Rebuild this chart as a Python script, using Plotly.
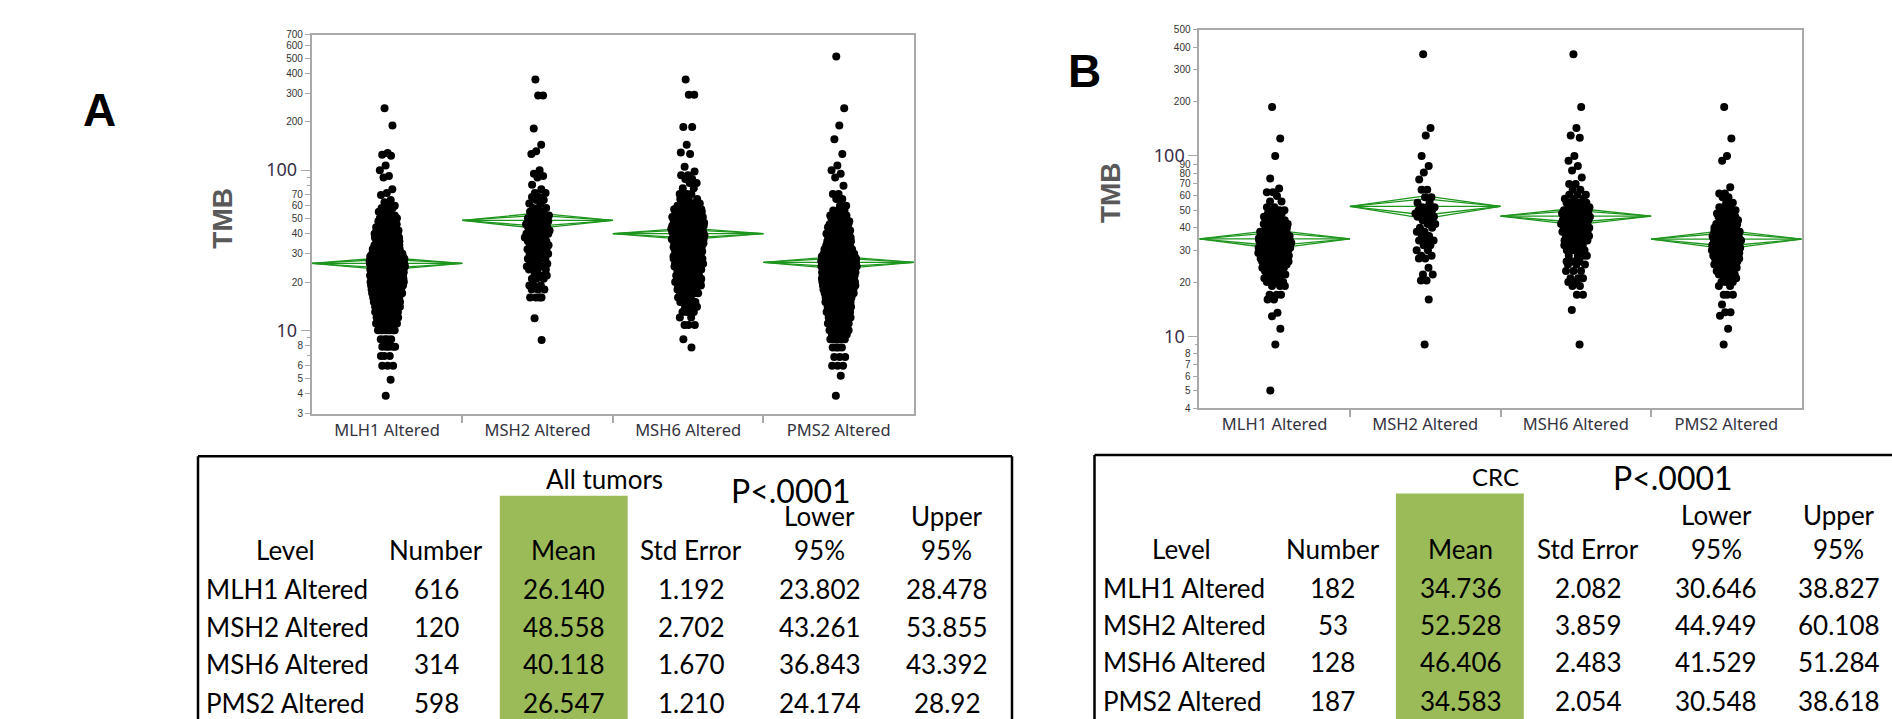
import numpy as np
import plotly.graph_objects as go

W, H = 1892, 719

def px(x):
    return x / W

def py(y):
    return 1 - y / H

categories = ["MLH1 Altered", "MSH2 Altered", "MSH6 Altered", "PMS2 Altered"]

# ---------------- Panel A (All tumors): TMB levels and number of dots at each level
a_mlh1_tmb = [244, 190, 128, 125, 123, 107, 100, 92, 90, 76, 72, 70, 65, 63, 60, 58, 55, 52, 50, 48, 46, 44, 42, 40,
              38, 36, 34, 32, 30, 29, 28, 27, 26, 25, 24, 23, 22, 21, 20, 19, 18, 17, 16, 15, 14, 13, 12, 11, 10,
              8.8, 7.9, 6.9, 6.0, 4.9, 3.9]
a_mlh1_n = [1, 1, 1, 1, 1, 1, 1, 1, 1, 1, 1, 1, 1, 1, 2, 2, 3, 3, 4, 5, 6, 7, 9, 10,
            12, 14, 16, 18, 22, 22, 24, 25, 27, 27, 27, 27, 27, 27, 27, 26, 26, 25, 24, 22, 20, 17, 13, 11, 8,
            4, 5, 3, 3, 1, 1]

a_msh2_tmb = [368, 293, 182, 144, 131, 126, 100, 95, 92, 90, 81, 76, 72, 68, 65, 62, 58, 55, 52, 50, 48, 46, 44, 42,
              40, 38, 36, 34, 32, 30, 28, 26, 25, 24, 22, 21, 19, 18, 16, 11.9, 8.7]
a_msh2_n = [1, 2, 1, 1, 1, 1, 1, 1, 1, 1, 1, 1, 2, 2, 2, 2, 3, 3, 4, 4, 4, 4, 5, 5,
            5, 5, 5, 6, 5, 5, 5, 4, 4, 4, 4, 3, 3, 3, 4, 1, 1]

a_msh6_tmb = [368, 296, 186, 144, 129, 126, 105, 98, 93, 88, 83, 77, 71, 66, 62, 60, 57, 55, 53, 51, 49, 47, 45, 43,
              41, 39, 37, 35, 33, 31, 29, 28, 26, 25, 24, 22, 21, 20, 19, 18, 17, 16, 15, 14, 13, 12, 10.8, 8.8, 7.8]
a_msh6_n = [1, 2, 2, 1, 1, 1, 1, 1, 2, 2, 2, 2, 3, 4, 5, 5, 7, 8, 10, 11, 11, 12, 13, 14,
            14, 14, 13, 13, 12, 13, 11, 10, 11, 10, 9, 9, 8, 7, 7, 6, 5, 4, 4, 3, 3, 2, 3, 1, 1]

a_pms2_tmb = [513, 244, 190, 156, 126, 107, 100, 95, 90, 80, 71, 66, 60, 56, 52, 50, 48, 46, 44, 42, 40, 38, 36, 34,
              32, 30, 29, 28, 27, 26, 25, 24, 23, 22, 21, 20, 19, 18, 17, 16, 15, 14, 13, 12, 11, 10, 9.4, 8.8, 7.8,
              6.8, 6.0, 5.2, 3.9]
a_pms2_n = [1, 1, 1, 1, 1, 1, 1, 1, 1, 1, 2, 2, 2, 3, 4, 4, 5, 6, 7, 8, 10, 11, 13, 15,
            17, 22, 22, 24, 25, 26, 26, 26, 26, 26, 26, 25, 25, 24, 24, 22, 20, 18, 16, 14, 12, 9, 4, 5, 4,
            3, 3, 1, 1]

# ---------------- Panel B (CRC)
b_mlh1_tmb = [187, 125, 100, 75, 66, 63, 60, 56, 52, 50, 48, 46, 44, 42, 40, 38, 36, 35, 34, 33, 32, 31, 30, 29,
              28, 27, 26, 25, 24, 23, 22, 21, 20, 19, 17, 16, 13.5, 12.9, 11, 9, 5]
b_mlh1_n = [1, 1, 1, 1, 1, 2, 1, 2, 2, 3, 3, 4, 5, 6, 7, 8, 10, 9, 9, 9, 10, 9, 9, 8,
            8, 7, 7, 6, 5, 4, 4, 4, 3, 3, 3, 2, 1, 1, 1, 1, 1]

b_msh2_tmb = [367, 143, 130, 100, 88, 81, 74, 65, 59, 55, 52, 50, 48, 46, 44, 42, 40, 38, 36, 34, 32, 30, 28, 27,
              24, 22, 20.4, 16, 9]
b_msh2_n = [1, 1, 1, 1, 1, 1, 1, 2, 2, 2, 3, 3, 3, 3, 2, 2, 2, 2, 2, 3, 2, 2, 2, 2,
            1, 2, 2, 1, 1]

b_msh6_tmb = [367, 187, 143, 130, 126, 100, 94, 88, 83, 76, 70, 65, 61, 58, 55, 52, 50, 48, 46, 44, 42, 40, 38, 36,
              34, 32, 30, 28, 26, 25, 23, 21, 20, 19, 17, 14, 9]
b_msh6_n = [1, 1, 1, 1, 1, 1, 1, 1, 1, 1, 2, 2, 3, 3, 5, 6, 6, 7, 7, 7, 7, 7, 7, 6,
            6, 6, 6, 4, 4, 3, 3, 3, 2, 2, 2, 1, 1]

b_pms2_tmb = [187, 125, 100, 94, 67, 62, 59, 55, 52, 50, 48, 46, 44, 42, 40, 38, 36, 35, 34, 33, 32, 31, 30, 29,
              28, 27, 26, 25, 24, 23, 22, 21, 20, 19, 17, 15, 13.6, 13, 11, 9]
b_pms2_n = [1, 1, 1, 1, 1, 2, 2, 2, 3, 3, 4, 5, 6, 7, 8, 9, 10, 9, 9, 9, 9, 9, 9, 8,
            8, 7, 7, 6, 5, 4, 4, 4, 3, 2, 3, 1, 2, 1, 1, 1]

# ---------------- Tables (means table shown under each plot)
header_cols = ["Level", "Number", "Mean", "Std Error", "95%", "95%"]
a_title = "All tumors"
b_title = "CRC"
p_text = "P<.0001"
a_number = ["616", "120", "314", "598"]
a_mean = ["26.140", "48.558", "40.118", "26.547"]
a_se = ["1.192", "2.702", "1.670", "1.210"]
a_lower = ["23.802", "43.261", "36.843", "24.174"]
a_upper = ["28.478", "53.855", "43.392", "28.92"]
b_number = ["182", "53", "128", "187"]
b_mean = ["34.736", "52.528", "46.406", "34.583"]
b_se = ["2.082", "3.859", "2.483", "2.054"]
b_lower = ["30.646", "44.949", "41.529", "30.548"]
b_upper = ["38.827", "60.108", "51.284", "38.618"]

a_ticks = [3, 4, 5, 6, 8, 20, 30, 40, 50, 60, 70, 200, 300, 400, 500, 600, 700]
a_minor = [7, 9, 80, 90]
b_ticks = [4, 5, 6, 7, 8, 20, 30, 40, 50, 60, 70, 80, 90, 200, 300, 400, 500]
b_minor = [9]
big_ticks = [10, 100]

# ---------------- geometry
A_X = (311.7, 914.0)
A_Y = (29.3, 414.3)
B_X = (1199.3, 1801.7)
B_Y = (24.3, 408.3)
A_RANGE = [np.log10(3), np.log10(700)]
B_RANGE = [np.log10(4), np.log10(500)]


def expand(tmb, n):
    return np.repeat(np.array(tmb, float), n)


def jitter_x(vals, cat, half_px, ppu):
    lv = np.log10(vals)
    d = np.array([np.sum(np.abs(lv - l) < 0.05) for l in lv], float)
    h = half_px * (0.3 + 0.7 * np.sqrt(d / d.max()))
    idx = np.arange(len(vals))
    u = 2 * ((idx * 0.6180339887 + 0.31) % 1.0) - 1
    return cat + h * u / ppu


def diamond_xy(means, lowers, uppers):
    xs, ys = [], []
    for i, (m, lo, up) in enumerate(zip(means, lowers, uppers)):
        c = i + 1
        lm = np.log10(m)
        ui = 10 ** (lm + (np.log10(up) - lm) / np.sqrt(2))
        li = 10 ** (lm - (lm - np.log10(lo)) / np.sqrt(2))
        xs += [c - 0.5, c, c + 0.5, c, c - 0.5, None]
        ys += [m, up, m, lo, m, None]
        xs += [c - 0.5, c + 0.5, None]
        ys += [m, m, None]
        xs += [c - 0.5, c, c + 0.5, c, c - 0.5, None]
        ys += [m, ui, m, li, m, None]
    return xs, ys


fig = go.Figure()

panels = [
    ("x", "y", "y3", A_X, [(a_mlh1_tmb, a_mlh1_n, 18), (a_msh2_tmb, a_msh2_n, 13), (a_msh6_tmb, a_msh6_n, 17),
                           (a_pms2_tmb, a_pms2_n, 18)], a_mean, a_lower, a_upper),
    ("x2", "y2", "y4", B_X, [(b_mlh1_tmb, b_mlh1_n, 17), (b_msh2_tmb, b_msh2_n, 11), (b_msh6_tmb, b_msh6_n, 15),
                             (b_pms2_tmb, b_pms2_n, 15)], b_mean, b_lower, b_upper),
]

GREEN_LINE = "rgb(30,150,30)"
for xa, ya, yb, XP, groups, mean_s, low_s, up_s in panels:
    ppu = (XP[1] - XP[0]) / 4.0
    # invisible trace so that the overlaid axis carrying the large 10 / 100 labels is drawn
    fig.add_trace(go.Scatter(x=[1], y=[10], mode="markers", xaxis=xa, yaxis=yb,
                             marker=dict(size=1, opacity=0), hoverinfo="skip"))
    dx, dy = diamond_xy([float(v) for v in mean_s], [float(v) for v in low_s], [float(v) for v in up_s])
    fig.add_trace(go.Scatter(x=dx, y=dy, mode="lines", xaxis=xa, yaxis=ya,
                             line=dict(color=GREEN_LINE, width=1.3), hoverinfo="skip"))
    for gi, (tmb, n, half) in enumerate(groups):
        v = expand(tmb, n)
        xj = jitter_x(v, gi + 1, half, ppu)
        fig.add_trace(go.Scatter(x=xj, y=v, mode="markers", xaxis=xa, yaxis=ya,
                                 marker=dict(size=8, color="black", line=dict(width=0)),
                                 name=categories[gi]))

AX_COL = "#a9a9a9"
TICK_FONT_SMALL = dict(family="Liberation Sans, Arial", size=10, color="#333333")
TICK_FONT_BIG = dict(family="Noto Sans, Open Sans", size=18, color="#3a2f4a")
CAT_FONT = dict(family="Noto Sans, Open Sans", size=16.5, color="#333340")


def xaxis_cfg(XP, yname):
    return dict(domain=[px(XP[0]), px(XP[1])], range=[0.5, 4.5], tickvals=[1, 2, 3, 4], ticktext=categories,
                ticks="", showline=True, mirror=True, linecolor=AX_COL, linewidth=1.5, showgrid=False,
                zeroline=False, tickfont=CAT_FONT, anchor=yname, fixedrange=True,
                minor=dict(tickvals=[1.5, 2.5, 3.5], ticks="outside", ticklen=7, tickcolor=AX_COL, tickwidth=1.5))


def yaxis_cfg(YP, rng, ticks, minor, xname):
    return dict(domain=[py(YP[1]), py(YP[0])], type="log", range=rng, tickvals=ticks,
                ticktext=[str(t) for t in ticks], ticks="outside", ticklen=5, tickcolor=AX_COL, tickwidth=1.2,
                showline=True, mirror=True, linecolor=AX_COL, linewidth=1.5, showgrid=False, zeroline=False,
                tickfont=TICK_FONT_SMALL, anchor=xname, fixedrange=True,
                minor=dict(tickvals=minor, ticks="outside", ticklen=3, tickcolor=AX_COL, tickwidth=1))


def yaxis_big(rng, base, xname):
    return dict(type="log", range=rng, overlaying=base, anchor=xname, side="left", tickvals=big_ticks,
                ticktext=[str(t) for t in big_ticks], ticks="outside", ticklen=10, tickcolor=AX_COL, tickwidth=1.2,
                showline=False, showgrid=False, zeroline=False, tickfont=TICK_FONT_BIG, fixedrange=True)


fig.update_layout(
    width=W, height=H, margin=dict(l=0, r=0, t=0, b=0, pad=0),
    paper_bgcolor="white", plot_bgcolor="white", showlegend=False,
    xaxis=xaxis_cfg(A_X, "y"), yaxis=yaxis_cfg(A_Y, A_RANGE, a_ticks, a_minor, "x"),
    xaxis2=xaxis_cfg(B_X, "y2"), yaxis2=yaxis_cfg(B_Y, B_RANGE, b_ticks, b_minor, "x2"),
    yaxis3=yaxis_big(A_RANGE, "y", "x"), yaxis4=yaxis_big(B_RANGE, "y2", "x2"),
)

ann = []
LETTER_FONT = dict(family="Liberation Sans, Arial", size=46, color="black", weight="bold")
TMB_FONT = dict(family="Liberation Sans, Arial", size=28, color="#595959", weight="bold")
ann.append(dict(text="A", x=px(99), y=py(106), font=LETTER_FONT))
ann.append(dict(text="B", x=px(1084), y=py(66), font=LETTER_FONT))
ann.append(dict(text="TMB", x=px(223), y=py(216), font=TMB_FONT, textangle=-90))
ann.append(dict(text="TMB", x=px(1110), y=py(190), font=TMB_FONT, textangle=-90))

TF = dict(family="Lato, Carlito, Calibri, sans-serif", size=26, color="black")
PF = dict(family="Lato, Carlito, Calibri, sans-serif", size=32, color="black")

shapes = []
tables = [
    dict(left=198, right=1012, top=457.3, green=(499.8, 627.7, 497.3), title=a_title, title_xy=(604.4, 480.7),
         title_size=26, p_xy=(791.4, 491.7), lu_y=518.3, head_y=552.5, rows_y=[592.5, 630.5, 668.5, 707.5],
         level_x=204.4, col_x=[285.7, 436.4, 563.7, 691, 819.6, 947],
         data=[a_number, a_mean, a_se, a_lower, a_upper]),
    dict(left=1094.5, right=None, top=456, green=(1395.9, 1523.8, 495), title=b_title, title_xy=(1495.8, 478.3),
         title_size=24, p_xy=(1673, 479.3), lu_y=516.7, head_y=551, rows_y=[591.5, 629, 666.5, 705.5],
         level_x=1100.7, col_x=[1181, 1332.7, 1460.6, 1587.5, 1716, 1838.7],
         data=[b_number, b_mean, b_se, b_lower, b_upper]),
]

for t in tables:
    g0, g1, gt = t["green"]
    shapes.append(dict(type="rect", xref="paper", yref="paper", x0=px(g0), x1=px(g1), y0=py(gt), y1=py(H + 5),
                       fillcolor="#9BBB59", line=dict(width=0), layer="below"))
    right = t["right"] if t["right"] is not None else W + 10
    shapes.append(dict(type="line", xref="paper", yref="paper", x0=px(t["left"]), x1=px(right),
                       y0=py(t["top"]), y1=py(t["top"]), line=dict(color="black", width=2.5)))
    shapes.append(dict(type="line", xref="paper", yref="paper", x0=px(t["left"]), x1=px(t["left"]),
                       y0=py(t["top"]), y1=py(H + 5), line=dict(color="black", width=2.5)))
    if t["right"] is not None:
        shapes.append(dict(type="line", xref="paper", yref="paper", x0=px(right), x1=px(right),
                           y0=py(t["top"]), y1=py(H + 5), line=dict(color="black", width=2.5)))
    ann.append(dict(text=t["title"], x=px(t["title_xy"][0]), y=py(t["title_xy"][1]),
                    font=dict(TF, size=t["title_size"])))
    ann.append(dict(text=p_text, x=px(t["p_xy"][0]), y=py(t["p_xy"][1]), font=PF))
    ann.append(dict(text="Lower", x=px(t["col_x"][4]), y=py(t["lu_y"]), font=TF))
    ann.append(dict(text="Upper", x=px(t["col_x"][5]), y=py(t["lu_y"]), font=TF))
    for cx, h in zip(t["col_x"], header_cols):
        ann.append(dict(text=h, x=px(cx), y=py(t["head_y"]), font=TF))
    for ri, ry in enumerate(t["rows_y"]):
        ann.append(dict(text=categories[ri], x=px(t["level_x"]), y=py(ry), font=TF, xanchor="left"))
        for ci, col in enumerate(t["data"]):
            ann.append(dict(text=col[ri], x=px(t["col_x"][ci + 1]), y=py(ry), font=TF))

for a in ann:
    a.setdefault("xref", "paper")
    a.setdefault("yref", "paper")
    a.setdefault("showarrow", False)
    a.setdefault("xanchor", "center")
    a.setdefault("yanchor", "middle")

fig.update_layout(annotations=ann, shapes=shapes)
fig.write_html("out.html", config={"displayModeBar": False},
               post_script="document.body.style.margin='0';document.body.style.padding='0';"
                           "document.documentElement.style.overflow='hidden';")
